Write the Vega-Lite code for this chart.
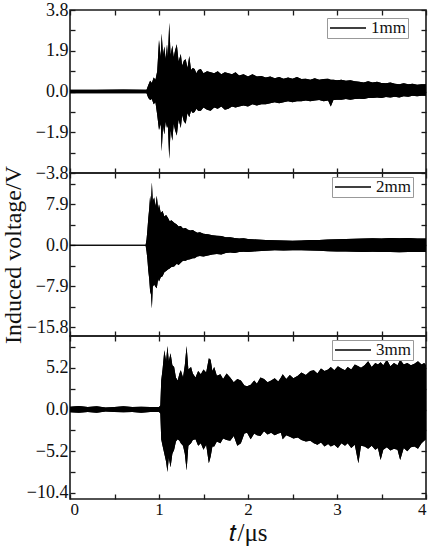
{
"$schema":"https://vega.github.io/schema/vega-lite/v6.json",
"padding":{"left":0,"top":0,"right":6,"bottom":5},
"bounds":"flush",
"spacing":0,
"config":{
 "font":"Liberation Serif, Times New Roman, serif",
 "view":{"stroke":"#1a1a1a","strokeWidth":1.6},
 "axis":{"domain":false,"grid":false,"tickColor":"#1a1a1a","tickSize":-5,"tickWidth":1.3,"labelFont":"Liberation Serif, Times New Roman, serif","labelFontSize":18,"labelColor":"#111","titleFont":"Liberation Serif, Times New Roman, serif","titleFontWeight":"normal","titleColor":"#111","labelPadding":7},
 "legend":{"labelFont":"Liberation Serif, Times New Roman, serif"}
},
"datasets":{
"p1":[
{"t":0,"hi":0.08,"lo":-0.08},{"t":0.3,"hi":0.08,"lo":-0.08},{"t":0.6,"hi":0.09,"lo":-0.08},{"t":0.86,"hi":0.08,"lo":-0.08},
{"t":0.88,"hi":0.3,"lo":-0.3},{"t":0.9,"hi":0.5,"lo":-0.4},{"t":0.92,"hi":0.4,"lo":-0.35},{"t":0.94,"hi":0.65,"lo":-0.6},{"t":0.96,"hi":0.55,"lo":-0.5},{"t":0.98,"hi":0.95,"lo":-1.1},
{"t":1.0,"hi":2.4,"lo":-1.8},{"t":1.02,"hi":1.6,"lo":-1.5},{"t":1.03,"hi":2.7,"lo":-2.8},{"t":1.045,"hi":1.7,"lo":-1.6},{"t":1.06,"hi":2.1,"lo":-2.0},{"t":1.075,"hi":1.5,"lo":-1.4},{"t":1.09,"hi":2.2,"lo":-1.7},{"t":1.1,"hi":1.6,"lo":-1.6},{"t":1.115,"hi":3.2,"lo":-3.15},{"t":1.13,"hi":1.7,"lo":-1.8},{"t":1.15,"hi":2.15,"lo":-2.3},{"t":1.165,"hi":1.6,"lo":-1.5},{"t":1.18,"hi":1.9,"lo":-1.8},{"t":1.2,"hi":2.2,"lo":-2.05},{"t":1.22,"hi":1.4,"lo":-1.3},{"t":1.245,"hi":1.75,"lo":-1.7},{"t":1.26,"hi":1.2,"lo":-1.1},{"t":1.28,"hi":1.45,"lo":-1.4},{"t":1.3,"hi":1.5,"lo":-1.5},{"t":1.32,"hi":1.1,"lo":-1.0},{"t":1.34,"hi":1.65,"lo":-1.2},{"t":1.36,"hi":1.0,"lo":-0.9},{"t":1.38,"hi":1.1,"lo":-1.0},{"t":1.4,"hi":1.05,"lo":-0.95},{"t":1.42,"hi":0.85,"lo":-0.8},{"t":1.44,"hi":1.0,"lo":-0.9},{"t":1.47,"hi":1.05,"lo":-0.9},{"t":1.5,"hi":0.85,"lo":-0.75},{"t":1.54,"hi":0.95,"lo":-0.85},{"t":1.58,"hi":0.9,"lo":-0.9},{"t":1.62,"hi":0.85,"lo":-0.75},{"t":1.66,"hi":0.95,"lo":-0.8},{"t":1.7,"hi":0.8,"lo":-0.7},{"t":1.74,"hi":0.9,"lo":-0.85},{"t":1.78,"hi":0.85,"lo":-0.8},{"t":1.82,"hi":0.8,"lo":-0.7},{"t":1.86,"hi":0.9,"lo":-0.75},{"t":1.9,"hi":0.75,"lo":-0.7},{"t":1.95,"hi":0.8,"lo":-0.65},{"t":2.0,"hi":0.7,"lo":-0.7},{"t":2.05,"hi":0.8,"lo":-0.6},{"t":2.1,"hi":0.7,"lo":-0.65},{"t":2.15,"hi":0.72,"lo":-0.6},{"t":2.2,"hi":0.65,"lo":-0.6},{"t":2.25,"hi":0.7,"lo":-0.55},{"t":2.3,"hi":0.62,"lo":-0.5},{"t":2.35,"hi":0.68,"lo":-0.55},{"t":2.4,"hi":0.6,"lo":-0.5},{"t":2.45,"hi":0.65,"lo":-0.45},{"t":2.5,"hi":0.6,"lo":-0.5},{"t":2.55,"hi":0.68,"lo":-0.45},{"t":2.6,"hi":0.58,"lo":-0.45},{"t":2.65,"hi":0.6,"lo":-0.42},{"t":2.7,"hi":0.55,"lo":-0.45},{"t":2.75,"hi":0.62,"lo":-0.42},{"t":2.8,"hi":0.55,"lo":-0.4},{"t":2.85,"hi":0.58,"lo":-0.45},{"t":2.9,"hi":0.6,"lo":-0.42},{"t":2.93,"hi":0.55,"lo":-0.7},{"t":2.96,"hi":0.55,"lo":-0.4},{"t":3.0,"hi":0.52,"lo":-0.38},{"t":3.05,"hi":0.55,"lo":-0.38},{"t":3.1,"hi":0.5,"lo":-0.35},{"t":3.15,"hi":0.52,"lo":-0.38},{"t":3.2,"hi":0.48,"lo":-0.35},{"t":3.25,"hi":0.45,"lo":-0.34},{"t":3.3,"hi":0.42,"lo":-0.35},{"t":3.35,"hi":0.48,"lo":-0.3},{"t":3.4,"hi":0.42,"lo":-0.3},{"t":3.45,"hi":0.45,"lo":-0.28},{"t":3.5,"hi":0.4,"lo":-0.3},{"t":3.55,"hi":0.38,"lo":-0.26},{"t":3.6,"hi":0.42,"lo":-0.28},{"t":3.65,"hi":0.36,"lo":-0.25},{"t":3.7,"hi":0.34,"lo":-0.28},{"t":3.75,"hi":0.38,"lo":-0.22},{"t":3.8,"hi":0.34,"lo":-0.24},{"t":3.85,"hi":0.36,"lo":-0.2},{"t":3.9,"hi":0.32,"lo":-0.22},{"t":3.95,"hi":0.34,"lo":-0.2},{"t":4.0,"hi":0.34,"lo":-0.2}
],
"p2":[
{"t":0,"hi":0.1,"lo":-0.1},{"t":0.85,"hi":0.1,"lo":-0.1},{"t":0.86,"hi":1.1,"lo":-1.2},{"t":0.87,"hi":3.0,"lo":-2.8},{"t":0.88,"hi":5.3,"lo":-5.0},{"t":0.89,"hi":7.0,"lo":-6.5},{"t":0.9,"hi":9.5,"lo":-8.9},{"t":0.91,"hi":8.0,"lo":-9.5},{"t":0.92,"hi":12.1,"lo":-12.2},{"t":0.93,"hi":8.5,"lo":-8.0},{"t":0.946,"hi":9.2,"lo":-7.6},{"t":0.96,"hi":7.5,"lo":-8.0},{"t":0.975,"hi":9.5,"lo":-8.3},{"t":0.99,"hi":7.0,"lo":-6.5},{"t":1.0,"hi":7.9,"lo":-7.0},{"t":1.02,"hi":6.2,"lo":-6.2},{"t":1.04,"hi":6.6,"lo":-6.0},{"t":1.06,"hi":5.5,"lo":-5.2},{"t":1.08,"hi":5.8,"lo":-5.0},{"t":1.1,"hi":5.3,"lo":-4.7},{"t":1.12,"hi":4.6,"lo":-4.5},{"t":1.14,"hi":4.8,"lo":-4.2},{"t":1.17,"hi":4.3,"lo":-4.1},{"t":1.2,"hi":4.0,"lo":-3.6},{"t":1.22,"hi":3.6,"lo":-3.8},{"t":1.245,"hi":3.7,"lo":-3.4},{"t":1.27,"hi":3.2,"lo":-3.0},{"t":1.3,"hi":3.3,"lo":-3.0},{"t":1.32,"hi":3.0,"lo":-2.8},{"t":1.35,"hi":2.8,"lo":-2.7},{"t":1.38,"hi":2.9,"lo":-2.5},{"t":1.4,"hi":2.7,"lo":-2.5},{"t":1.43,"hi":2.4,"lo":-2.2},{"t":1.46,"hi":2.5,"lo":-2.1},{"t":1.5,"hi":2.2,"lo":-2.2},{"t":1.55,"hi":2.1,"lo":-2.0},{"t":1.6,"hi":1.9,"lo":-1.8},{"t":1.65,"hi":1.8,"lo":-1.7},{"t":1.7,"hi":1.75,"lo":-1.8},{"t":1.75,"hi":1.5,"lo":-1.5},{"t":1.8,"hi":1.5,"lo":-1.4},{"t":1.85,"hi":1.4,"lo":-1.5},{"t":1.9,"hi":1.3,"lo":-1.3},{"t":1.95,"hi":1.35,"lo":-1.25},{"t":2.0,"hi":1.2,"lo":-1.3},{"t":2.1,"hi":1.1,"lo":-1.15},{"t":2.2,"hi":1.0,"lo":-1.1},{"t":2.3,"hi":0.95,"lo":-1.0},{"t":2.4,"hi":0.9,"lo":-1.05},{"t":2.5,"hi":0.85,"lo":-1.0},{"t":2.6,"hi":0.9,"lo":-1.0},{"t":2.7,"hi":1.0,"lo":-1.05},{"t":2.8,"hi":1.0,"lo":-1.1},{"t":2.9,"hi":1.1,"lo":-1.15},{"t":3.0,"hi":1.15,"lo":-1.2},{"t":3.1,"hi":1.2,"lo":-1.2},{"t":3.2,"hi":1.25,"lo":-1.25},{"t":3.3,"hi":1.3,"lo":-1.3},{"t":3.4,"hi":1.35,"lo":-1.25},{"t":3.5,"hi":1.3,"lo":-1.3},{"t":3.6,"hi":1.4,"lo":-1.3},{"t":3.7,"hi":1.35,"lo":-1.35},{"t":3.8,"hi":1.4,"lo":-1.3},{"t":3.9,"hi":1.3,"lo":-1.3},{"t":4.0,"hi":1.3,"lo":-1.3}
],
"p3":[
{"t":0,"hi":0.35,"lo":-0.35},{"t":0.1,"hi":0.45,"lo":-0.4},{"t":0.2,"hi":0.3,"lo":-0.3},{"t":0.3,"hi":0.4,"lo":-0.4},{"t":0.4,"hi":0.25,"lo":-0.25},{"t":0.5,"hi":0.3,"lo":-0.3},{"t":0.6,"hi":0.4,"lo":-0.35},{"t":0.7,"hi":0.3,"lo":-0.3},{"t":0.8,"hi":0.35,"lo":-0.4},{"t":0.9,"hi":0.3,"lo":-0.3},{"t":1.0,"hi":0.3,"lo":-0.3},{"t":1.015,"hi":0.5,"lo":-0.5},
{"t":1.025,"hi":3.6,"lo":-3.7},{"t":1.04,"hi":5.0,"lo":-4.5},{"t":1.06,"hi":7.4,"lo":-5.5},{"t":1.08,"hi":6.0,"lo":-6.5},{"t":1.095,"hi":7.9,"lo":-7.8},{"t":1.11,"hi":6.0,"lo":-6.0},{"t":1.13,"hi":7.0,"lo":-7.2},{"t":1.15,"hi":5.5,"lo":-5.5},{"t":1.17,"hi":5.3,"lo":-5.0},{"t":1.19,"hi":4.0,"lo":-4.0},{"t":1.21,"hi":3.6,"lo":-3.7},{"t":1.23,"hi":4.5,"lo":-3.9},{"t":1.245,"hi":4.9,"lo":-4.2},{"t":1.27,"hi":4.0,"lo":-4.5},{"t":1.29,"hi":5.5,"lo":-5.5},{"t":1.31,"hi":7.9,"lo":-7.6},{"t":1.33,"hi":5.0,"lo":-4.5},{"t":1.36,"hi":5.3,"lo":-4.2},{"t":1.38,"hi":4.5,"lo":-3.8},{"t":1.41,"hi":4.0,"lo":-3.7},{"t":1.44,"hi":4.8,"lo":-4.5},{"t":1.47,"hi":4.4,"lo":-4.2},{"t":1.5,"hi":5.0,"lo":-5.0},{"t":1.53,"hi":4.6,"lo":-4.4},{"t":1.56,"hi":6.4,"lo":-6.7},{"t":1.58,"hi":6.2,"lo":-5.9},{"t":1.6,"hi":4.8,"lo":-4.6},{"t":1.62,"hi":5.3,"lo":-4.6},{"t":1.65,"hi":4.2,"lo":-4.0},{"t":1.69,"hi":4.4,"lo":-4.2},{"t":1.72,"hi":3.8,"lo":-3.6},{"t":1.76,"hi":4.5,"lo":-3.8},{"t":1.8,"hi":4.0,"lo":-3.9},{"t":1.84,"hi":3.4,"lo":-3.3},{"t":1.88,"hi":3.8,"lo":-4.5},{"t":1.92,"hi":3.6,"lo":-4.2},{"t":1.96,"hi":3.0,"lo":-3.0},{"t":1.99,"hi":2.9,"lo":-2.9},{"t":2.03,"hi":3.1,"lo":-3.7},{"t":2.07,"hi":3.6,"lo":-3.0},{"t":2.1,"hi":3.2,"lo":-3.2},{"t":2.14,"hi":4.0,"lo":-3.3},{"t":2.18,"hi":3.8,"lo":-2.7},{"t":2.22,"hi":3.4,"lo":-3.1},{"t":2.26,"hi":3.6,"lo":-2.9},{"t":2.3,"hi":3.9,"lo":-3.2},{"t":2.34,"hi":3.5,"lo":-3.0},{"t":2.37,"hi":4.0,"lo":-2.9},{"t":2.39,"hi":4.4,"lo":-3.7},{"t":2.43,"hi":3.8,"lo":-3.2},{"t":2.47,"hi":4.3,"lo":-3.4},{"t":2.51,"hi":3.9,"lo":-3.6},{"t":2.56,"hi":4.2,"lo":-3.5},{"t":2.6,"hi":4.6,"lo":-3.8},{"t":2.65,"hi":4.3,"lo":-4.0},{"t":2.7,"hi":4.8,"lo":-3.9},{"t":2.74,"hi":4.9,"lo":-4.2},{"t":2.78,"hi":4.5,"lo":-4.4},{"t":2.82,"hi":5.1,"lo":-4.1},{"t":2.86,"hi":4.8,"lo":-4.6},{"t":2.9,"hi":5.0,"lo":-4.3},{"t":2.93,"hi":5.3,"lo":-4.6},{"t":2.97,"hi":4.9,"lo":-4.4},{"t":3.01,"hi":5.4,"lo":-4.8},{"t":3.05,"hi":5.1,"lo":-4.2},{"t":3.09,"hi":4.9,"lo":-4.5},{"t":3.12,"hi":5.3,"lo":-4.2},{"t":3.16,"hi":5.0,"lo":-4.8},{"t":3.2,"hi":5.6,"lo":-4.4},{"t":3.24,"hi":5.4,"lo":-6.7},{"t":3.27,"hi":5.2,"lo":-4.5},{"t":3.31,"hi":5.5,"lo":-4.6},{"t":3.35,"hi":6.0,"lo":-4.9},{"t":3.39,"hi":5.3,"lo":-4.5},{"t":3.43,"hi":5.8,"lo":-5.0},{"t":3.46,"hi":5.6,"lo":-4.8},{"t":3.49,"hi":5.9,"lo":-6.3},{"t":3.52,"hi":5.5,"lo":-5.0},{"t":3.56,"hi":6.2,"lo":-4.7},{"t":3.6,"hi":5.4,"lo":-5.1},{"t":3.64,"hi":5.8,"lo":-4.9},{"t":3.68,"hi":5.5,"lo":-5.0},{"t":3.71,"hi":6.2,"lo":-6.3},{"t":3.75,"hi":5.6,"lo":-4.8},{"t":3.79,"hi":5.8,"lo":-5.2},{"t":3.83,"hi":5.5,"lo":-4.7},{"t":3.87,"hi":5.7,"lo":-4.6},{"t":3.91,"hi":6.0,"lo":-4.9},{"t":3.95,"hi":5.6,"lo":-4.2},{"t":3.98,"hi":5.8,"lo":-3.9},{"t":4.0,"hi":5.5,"lo":-3.7}
]
},
"vconcat":[
{
 "width":356,"height":163,
 "data":{"name":"p1"},
 "layer":[
  {"mark":{"type":"area","interpolate":"linear"},
   "encoding":{
    "x":{"field":"t","type":"quantitative","scale":{"domain":[0,4],"nice":false},"axis":{"orient":"bottom","values":[0,0.5,1,1.5,2,2.5,3,3.5,4],"labels":false,"title":null}},
    "y":{"field":"hi","type":"quantitative","scale":{"domain":[-3.8,3.8],"nice":false,"zero":false},"axis":{"orient":"left","values":[3.8,2.85,1.9,0.95,0,-0.95,-1.9,-2.85,-3.8],"labelExpr":"abs(round(datum.value*10)) % 19 == 0 ? format(datum.value, '.1f') : ''","title":null}},
    "y2":{"field":"lo"},
    "color":{"datum":"1mm","scale":{"range":["black"]},"legend":{"orient":"none","legendX":257,"legendY":8,"title":null,"symbolType":"stroke","symbolSize":1300,"clipHeight":16,"labelFontSize":17,"labelColor":"#111","labelOffset":4,"fillColor":"white","strokeColor":"#999","padding":2,"encode":{"symbols":{"update":{"stroke":{"value":"black"},"strokeWidth":{"value":1.5}}}}}}
   }},
  {"mark":{"type":"area","interpolate":"linear","color":"black"},
   "encoding":{
    "x":{"field":"t","type":"quantitative","axis":{"orient":"top","values":[0,0.5,1,1.5,2,2.5,3,3.5,4],"labels":false,"title":null}},
    "y":{"field":"hi","type":"quantitative","axis":{"orient":"right","values":[3.8,2.85,1.9,0.95,0,-0.95,-1.9,-2.85,-3.8],"labels":false,"title":null}},
    "y2":{"field":"lo"}
   }}
 ],
 "resolve":{"axis":{"x":"independent","y":"independent"}}
},
{
 "width":356,"height":163,
 "data":{"name":"p2"},
 "layer":[
  {"mark":{"type":"area","interpolate":"linear"},
   "encoding":{
    "x":{"field":"t","type":"quantitative","scale":{"domain":[0,4],"nice":false},"axis":{"orient":"bottom","values":[0,0.5,1,1.5,2,2.5,3,3.5,4],"labels":false,"title":null}},
    "y":{"field":"hi","type":"quantitative","scale":{"domain":[-17.5,13.9],"nice":false,"zero":false},"axis":{"orient":"left","values":[11.85,7.9,3.95,0,-3.95,-7.9,-11.85,-15.8],"labelExpr":"abs(round(datum.value*10)) % 79 == 0 ? format(datum.value, '.1f') : ''","title":"Induced voltage/V","titleFontSize":24,"titlePadding":1}},
    "y2":{"field":"lo"},
    "color":{"datum":"2mm","scale":{"range":["black"]},"legend":{"orient":"none","legendX":262,"legendY":4,"title":null,"symbolType":"stroke","symbolSize":1300,"clipHeight":16,"labelFontSize":17,"labelColor":"#111","labelOffset":4,"fillColor":"white","strokeColor":"#999","padding":2,"encode":{"symbols":{"update":{"stroke":{"value":"black"},"strokeWidth":{"value":1.5}}}}}}
   }},
  {"mark":{"type":"area","interpolate":"linear","color":"black"},
   "encoding":{
    "x":{"field":"t","type":"quantitative","axis":{"orient":"top","values":[0,0.5,1,1.5,2,2.5,3,3.5,4],"labels":false,"title":null}},
    "y":{"field":"hi","type":"quantitative","axis":{"orient":"right","values":[11.85,7.9,3.95,0,-3.95,-7.9,-11.85,-15.8],"labels":false,"title":null}},
    "y2":{"field":"lo"}
   }}
 ],
 "resolve":{"axis":{"x":"independent","y":"independent"}}
},
{
 "width":356,"height":163,
 "data":{"name":"p3"},
 "layer":[
  {"mark":{"type":"area","interpolate":"linear"},
   "encoding":{
    "x":{"field":"t","type":"quantitative","scale":{"domain":[0,4],"nice":false},"axis":{"orient":"bottom","values":[0,0.5,1,1.5,2,2.5,3,3.5,4],"labelExpr":"datum.value % 1 == 0 ? format(datum.value, 'd') : ''","labelFontSize":17,"title":"𝑡/μs","titleFontSize":25,"titlePadding":3}},
    "y":{"field":"hi","type":"quantitative","scale":{"domain":[-11.15,9.16],"nice":false,"zero":false},"axis":{"orient":"left","values":[7.8,5.2,2.6,0,-2.6,-5.2,-7.8,-10.4],"labelExpr":"abs(round(datum.value*10)) % 52 == 0 ? format(datum.value, '.1f') : ''","title":null}},
    "y2":{"field":"lo"},
    "color":{"datum":"3mm","scale":{"range":["black"]},"legend":{"orient":"none","legendX":262,"legendY":4,"title":null,"symbolType":"stroke","symbolSize":1300,"clipHeight":16,"labelFontSize":17,"labelColor":"#111","labelOffset":4,"fillColor":"white","strokeColor":"#999","padding":2,"encode":{"symbols":{"update":{"stroke":{"value":"black"},"strokeWidth":{"value":1.5}}}}}}
   }},
  {"mark":{"type":"area","interpolate":"linear","color":"black"},
   "encoding":{
    "x":{"field":"t","type":"quantitative","axis":{"orient":"top","values":[0,0.5,1,1.5,2,2.5,3,3.5,4],"labels":false,"title":null}},
    "y":{"field":"hi","type":"quantitative","axis":{"orient":"right","values":[7.8,5.2,2.6,0,-2.6,-5.2,-7.8,-10.4],"labels":false,"title":null}},
    "y2":{"field":"lo"}
   }}
 ],
 "resolve":{"axis":{"x":"independent","y":"independent"}}
}
],
"resolve":{"scale":{"y":"independent","color":"independent"},"legend":{"color":"independent"}}
}
